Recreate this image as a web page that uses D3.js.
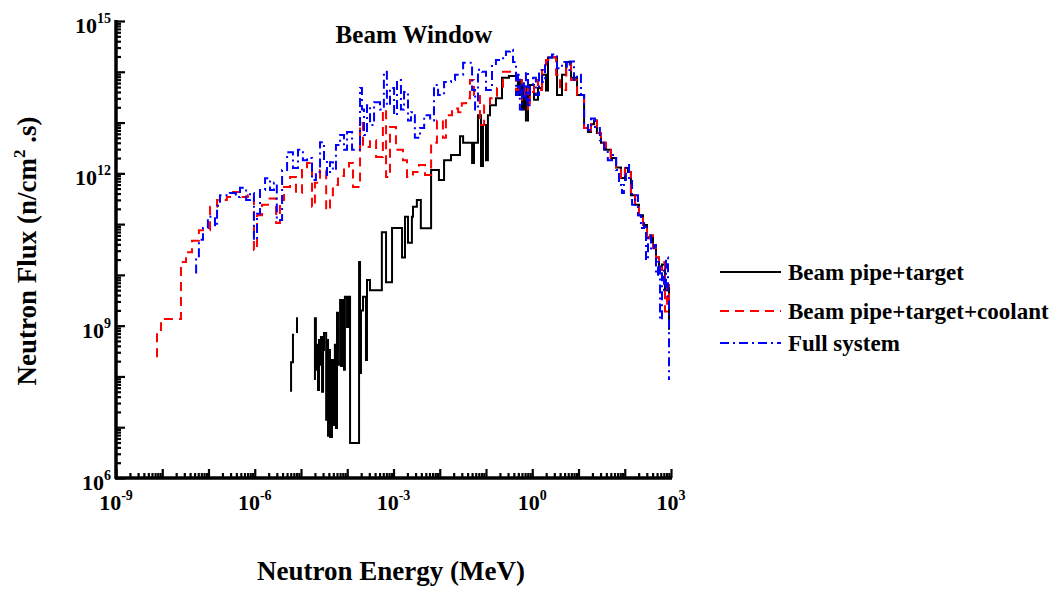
<!DOCTYPE html>
<html><head><meta charset="utf-8">
<script src="https://cdn.jsdelivr.net/npm/d3@7"></script>
<style>
body{margin:0;background:#fff}
text{font-family:"Liberation Serif","Times New Roman",serif;font-weight:bold;fill:#000}
</style>
</head><body>
<svg id="c" width="1060" height="591"></svg>
<script>
// ---------- data ----------
const xTickValues = [1e-9, 1e-6, 1e-3, 1, 1e3];
const xTickExps = ["-9", "-6", "-3", "0", "3"];
const yTickValues = [1e6, 1e9, 1e12, 1e15];
const yTickExps = ["6", "9", "12", "15"];
const seriesNames = ["Beam pipe+target", "Beam pipe+target+coolant", "Full system"];
const titleText = "Beam Window";

// Beam pipe+target (bin left edge energy in MeV, flux n/cm2.s; null = no flux)
const blackE = [6.1e-6,6.1e-6,6.7e-6,7.1e-6,7.1e-6, 8.2e-6,8.2e-6,8.6e-6,8.6e-6,
 2e-5,2e-5,2.1e-5,2.2e-5,2.33e-5,2.45e-5,2.58e-5,2.7e-5,2.85e-5,3e-5,3.14e-5,3.5e-5,3.65e-5,3.84e-5,4.03e-5,4.24e-5,4.68e-5,4.9e-5,5.4e-5,5.7e-5,6e-5,6.3e-5,7e-5,7.3e-5,7.7e-5,8.5e-5,8.9e-5,9.9e-5,1.04e-4,1.15e-4,1.8e-4,1.89e-4,1.98e-4,2.19e-4,2.54e-4,2.67e-4,3.1e-4,5.6e-4,6.9e-4,9.3e-4,1.53e-3,1.77e-3,2.06e-3,2.5e-3,2.64e-3,3.2e-3,3.9e-3,6.5e-3,9.6e-3,1.24e-2,1.75e-2,2.74e-2,3.2e-2,5e-2,5.5e-2,6.7e-2,7.8e-2,8.6e-2,0.1,0.11,0.122,0.164,0.222,0.314,0.49,0.54,0.6,0.66,0.73,0.81,0.89,1.09,1.33,1.63,1.98,2.19,3.43,4.4,5.4,6.9,9.3,13.2,16,18.6,21.6,25,30.6,39,50,65,83,101,117,136,167,203,248,303,352,408,474,551,638,741,861,906];
const blackF = [5e7,1.9e8,6.6e8,6.6e8,null, 7.2e8,1.4e9,1.4e9,null,
 8.5e7,1.4e9,1.35e8,4.2e8,5.4e7,5.2e8,1.7e8,6e8,5e7,3.3e8,7.2e8,1.4e7,5.2e8,6.8e6,3.3e8,6.4e6,2.1e8,1.1e7,4.2e8,9.6e6,1.8e9,1.7e8,3.2e9,1.6e8,3.2e9,1.35e8,3.7e9,9.4e8,3.7e9,4.9e6,1.8e10,1.17e8,2e9,3.7e9,2.1e8,7.9e9,5e9,6.9e10,7.2e9,8.4e10,2.2e10,1.4e11,4.3e10,1.4e11,2.2e11,3e11,8.3e10,1.16e12,7.4e11,1.8e12,2.3e12,5.4e12,4e12,1.6e12,4e12,1.4e13,1.4e12,9e12,1.8e12,1.4e13,2.2e13,3e13,7.6e13,8.3e13,3.5e13,6.9e13,1.8e13,4.8e13,1.1e13,3.5e13,5.5e13,2.8e13,4.8e13,8.7e13,4.3e13,1.9e14,3.5e13,8.7e13,1.55e14,7.6e13,3.5e13,7.8e12,6.5e12,9.3e12,1.1e13,6.2e12,4e12,2.9e12,2e12,1.3e12,8.1e11,1.27e12,1.06e12,3.7e11,2.4e11,1.5e11,9.6e10,5.5e10,6e10,3.4e10,2.2e10,1.3e10,1.6e10,5e9,5.8e9,8.3e8];

// Beam pipe+target+coolant
const redE = [7.7e-9,7.7e-9,9.4e-9,2.54e-8,3.27e-8,4.4e-8,6.2e-8,1.08e-7,1.53e-7,2.5e-7,3.4e-7,4.8e-7,7.1e-7,9.6e-7,1.12e-6,1.44e-6,1.93e-6,2.9e-6,3.5e-6,4.3e-6,5.8e-6,7.8e-6,1.05e-5,1.35e-5,1.73e-5,2e-5,2.58e-5,3.5e-5,4.24e-5,4.9e-5,6.3e-5,8.5e-5,1.09e-4,1.33e-4,1.89e-4,2.19e-4,3.1e-4,4.2e-4,5.9e-4,6.9e-4,8.4e-4,1.13e-3,1.6e-3,1.96e-3,2.64e-3,3.56e-3,4.8e-3,6.5e-3,8.7e-3,1.17e-2,1.36e-2,1.84e-2,2.5e-2,3e-2,3.7e-2,4.5e-2,5.5e-2,7.4e-2,9.1e-2,0.122,0.173,0.233,0.446,0.52,0.6,0.7,0.81,0.89,1.09,1.33,1.63,1.98,2.42,3.27,3.98,5.4,6.9,9.3,13.2,16,18.6,21.6,25,30.6,39,50,65,83,101,117,136,167,203,248,303,352,408,474,551,638,741,820,906,951];
const redF = [2.4e8,8.2e8,1.35e9,1.8e10,2.8e10,4.7e10,7.6e10,2.2e11,3e11,3.4e11,4.3e11,3.4e11,3.7e11,3.1e10,1.5e11,2.4e11,3.2e11,1.05e11,3e11,5.4e11,8.5e11,4.1e11,1.16e12,1.6e12,2.2e11,6.5e11,1.16e12,1.9e11,3.7e11,5.9e11,8.9e11,1.27e12,1.6e12,5.4e11,9.8e12,3.3e12,4.5e12,2.1e12,1.8e13,8.5e11,8.2e12,2.9e12,1.8e12,8.5e11,1.06e12,1.46e12,9.3e11,4e12,1.1e13,5e12,1.4e13,1.9e13,1.6e13,2.4e13,3e13,6.9e13,3.5e13,9e12,2.2e13,3e13,4.8e13,1e14,4.4e13,6.9e13,2.8e13,5.5e13,1.8e13,4e13,6.9e13,4.4e13,1.08e14,1.7e14,1.95e14,8.7e13,4.4e13,1.4e14,6.9e13,3.5e13,7.8e12,6.5e12,9.3e12,1.1e13,6.2e12,4e12,2.9e12,2e12,1.3e12,8.1e11,1.27e12,1.06e12,3.7e11,2.4e11,1.5e11,9.6e10,4.9e10,6e10,3.4e10,2.2e10,1.25e10,1.8e10,1.9e9,6.3e9,3.2e9,3.2e9];

// Full system
const blueE = [5.4e-8,5.4e-8,6.2e-8,7.6e-8,9.7e-8,1.38e-7,1.53e-7,1.77e-7,2.9e-7,3.9e-7,4.8e-7,6.5e-7,7.9e-7,9.6e-7,1.12e-6,1.3e-6,1.67e-6,2.14e-6,2.6e-6,3e-6,3.9e-6,5e-6,6.7e-6,8.6e-6,1.1e-5,1.35e-5,1.73e-5,2.1e-5,2.58e-5,3.14e-5,3.65e-5,4.24e-5,4.9e-5,5.7e-5,7e-5,8.5e-5,9.9e-5,1.27e-4,1.89e-4,2.08e-4,2.3e-4,2.67e-4,3.1e-4,3.8e-4,5.1e-4,6.2e-4,7.2e-4,8.4e-4,1.03e-3,1.19e-3,1.45e-3,1.69e-3,2.06e-3,2.39e-3,2.9e-3,3.74e-3,4.6e-3,6.2e-3,7.5e-3,9.2e-3,1.24e-2,1.75e-2,2.14e-2,3.2e-2,5e-2,5.8e-2,6.7e-2,8.2e-2,0.1,0.135,0.164,0.222,0.27,0.33,0.384,0.446,0.49,0.54,0.6,0.66,0.73,0.81,0.89,1.04,1.2,1.4,1.63,1.89,2.3,2.67,3.43,4.4,5.6,6.5,8,9.3,11.3,13.2,16,18.6,22.7,29,35.6,43,53,65,75,87,96,106,124,144,167,193,224,261,288,318,370,429,474,524,578,638,706,780,861,906,906];
const blueF = [1.07e10,2.2e10,4.9e10,8.4e10,1.4e11,9e10,2.3e11,3.7e11,4.1e11,3.4e11,5.2e11,3e11,4.1e11,4.9e10,1.6e11,4.7e11,8e11,4.7e11,6.5e11,1.2e11,1.16e12,2.6e12,1.27e12,2.9e12,1.8e12,2e12,7.4e11,1.06e12,4.1e12,1.8e12,9.3e11,1.66e12,1.16e12,3.6e12,5.7e12,2.9e12,6.5e12,2.9e12,4.8e13,1.8e13,5.7e12,2.2e13,9e12,2.5e13,1.8e13,1e14,2.2e13,4.8e13,1.4e13,6.9e13,1.8e13,4e13,1.1e13,1.6e13,5e12,7.8e12,1.4e13,1.1e13,5.5e13,3.5e13,6.3e13,6.9e13,8.7e13,1.5e14,4.4e13,1.8e13,1.1e14,1e14,4.4e13,1.3e14,1.7e14,1.85e14,2.5e14,2.7e14,1.55e14,3.5e13,8.7e13,1.8e13,6.3e13,2.8e13,1e14,2.2e13,5.5e13,7.6e13,3.5e13,1.08e14,6.3e13,1.55e14,1.9e14,2.2e14,1.18e14,1.55e14,1.08e14,1.6e14,6.9e13,8.7e13,3.5e13,9e12,7.1e12,1.2e13,7.8e12,4.5e12,2.9e12,1.8e12,2.3e12,1.16e12,5.9e11,4.1e11,7.4e11,1.46e12,8.1e11,2.4e11,3.7e11,1.5e11,8.4e10,1.05e11,1.95e10,6e10,3.1e10,3.9e10,1e10,1.8e10,1.3e9,1.25e10,5e9,2.2e10,3.2e9,3.2e9,8.5e7];

// ---------- drawing ----------
const svg = d3.select("#c");
const x = d3.scaleLog().domain([1e-9, 1e3]).range([116, 671]);
const y = d3.scaleLog().domain([1e6, 1e15]).range([478, 21]);

const zip = (E, F) => E.map((e, i) => ({e: e, f: F[i]}));
const series = [
  {data: zip(blackE, blackF), color: "#000", dash: null},
  {data: zip(redE, redF), color: "#ff0000", dash: "9,6"},
  {data: zip(blueE, blueF), color: "#0000ff", dash: "9,4,2,4"}
];

const line = d3.line()
  .defined(d => d.f != null)
  .x(d => x(d.e)).y(d => y(d.f))
  .curve(d3.curveStepAfter);

series.forEach(s => {
  svg.append("path").datum(s.data)
    .attr("d", line).attr("fill", "none")
    .attr("stroke", s.color).attr("stroke-width", 2)
    .attr("stroke-dasharray", s.dash);
});

// axis ticks
function logTicks(lo, hi) {
  const major = [], minor = [];
  for (let k = lo; k <= hi; k++) {
    major.push(Math.pow(10, k));
    if (k < hi) for (let m = 2; m <= 9; m++) minor.push(m * Math.pow(10, k));
  }
  return {major, minor};
}
const xt = logTicks(-9, 3), yt = logTicks(6, 15);

const gx = svg.append("g").attr("transform", "translate(0,478)");
gx.append("g").call(d3.axisBottom(x).tickValues(xt.major).tickSize(-9).tickFormat(""));
gx.append("g").call(d3.axisBottom(x).tickValues(xt.minor).tickSize(-5).tickFormat(""));
const gy = svg.append("g").attr("transform", "translate(116,0)");
gy.append("g").call(d3.axisLeft(y).tickValues(yt.major).tickSize(-9).tickFormat(""));
gy.append("g").call(d3.axisLeft(y).tickValues(yt.minor).tickSize(-5).tickFormat(""));
svg.selectAll(".domain").remove();
svg.selectAll(".tick line").attr("stroke", "#000").attr("stroke-width", 2.2);
// axis lines along the scale ranges
svg.append("line").attr("x1", x.range()[0] - 1).attr("x2", x.range()[1] + 1)
  .attr("y1", y.range()[0]).attr("y2", y.range()[0]).attr("stroke", "#000").attr("stroke-width", 3.5);
svg.append("line").attr("x1", x.range()[0]).attr("x2", x.range()[0])
  .attr("y1", y.range()[1] - 1).attr("y2", y.range()[0] + 1).attr("stroke", "#000").attr("stroke-width", 3.5);

// tick labels
xTickValues.forEach((v, i) => {
  const t = svg.append("text").attr("x", x(v)).attr("y", 510)
    .attr("text-anchor", "middle").attr("font-size", 22);
  t.append("tspan").text("10");
  t.append("tspan").attr("dy", -10).attr("font-size", 14).text(xTickExps[i]);
});
yTickValues.forEach((v, i) => {
  const t = svg.append("text").attr("x", 111).attr("y", y(v) + 12)
    .attr("text-anchor", "end").attr("font-size", 22);
  t.append("tspan").text("10");
  t.append("tspan").attr("dy", -10).attr("font-size", 14).text(yTickExps[i]);
});

// title and axis titles
svg.append("text").attr("x", 414).attr("y", 43).attr("text-anchor", "middle")
  .attr("font-size", 25).text(titleText);
svg.append("text").attr("x", 391).attr("y", 580).attr("text-anchor", "middle")
  .attr("font-size", 27).text("Neutron Energy (MeV)");
const yl = svg.append("text").attr("transform", "translate(36,251) rotate(-90)")
  .attr("text-anchor", "middle").attr("font-size", 27);
yl.append("tspan").text("Neutron Flux (n/cm");
yl.append("tspan").attr("dy", -11).attr("font-size", 17).text("2");
yl.append("tspan").attr("dy", 11).text(" .s)");

// legend
const legY = [272, 311, 343];
series.forEach((s, i) => {
  svg.append("line").attr("x1", 720).attr("x2", 781).attr("y1", legY[i]).attr("y2", legY[i])
    .attr("stroke", s.color).attr("stroke-width", 2).attr("stroke-dasharray", s.dash);
  svg.append("text").attr("x", 788).attr("y", legY[i] + 8).attr("font-size", 23).text(seriesNames[i]);
});
</script>
</body></html>
